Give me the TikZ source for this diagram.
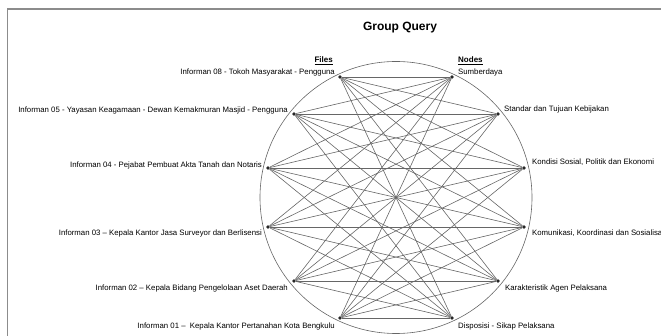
\documentclass[tikz,border=0pt]{standalone}
\usepackage{fontspec}
\setmainfont{Liberation Sans}
\usetikzlibrary{calc}
\begin{document}
\begin{tikzpicture}[x=1pt, y=-1pt,
	dot/.style={circle, fill=black!85, inner sep=0pt, minimum size=3.8pt},
	link/.style={draw=black!60, line width=0.6pt},
	lbl/.style={font=\fontsize{7.8}{9.4}\selectfont, inner sep=0pt},
	hdr/.style={font=\fontsize{8}{9.6}\selectfont\bfseries, inner sep=0pt}]
	\useasboundingbox (0,0) rectangle (661,336);

	%frame and title
	\draw[black!45, line width=1.3pt] (7.5,336) -- (7.5,9) -- (661,9);
	\node[font=\fontsize{12}{14}\selectfont\bfseries, anchor=base] (title) at (400,31) {Group Query};

	%ring
	\coordinate (c) at (396,197.5);
	\draw[black!60, line width=0.6pt] (c) circle (136pt);

	%files (left)
	\node[dot] (f8) at (340,77) {};
	\node[dot] (f5) at (294,114) {};
	\node[dot] (f4) at (268,168) {};
	\node[dot] (f3) at (268,227) {};
	\node[dot] (f2) at (294,281) {};
	\node[dot] (f1) at (340,318) {};

	%nodes (right)
	\node[dot] (n1) at (452,77) {};
	\node[dot] (n2) at (498,114) {};
	\node[dot] (n3) at (524,168) {};
	\node[dot] (n4) at (524,227) {};
	\node[dot] (n5) at (498,281) {};
	\node[dot] (n6) at (452,318) {};

	%every file to every node
	\foreach \f in {f8,f5,f4,f3,f2,f1}
		\foreach \n in {n1,n2,n3,n4,n5,n6}
			\draw[link] (\f) -- (\n);

	%labels for files
	\node[lbl, anchor=base east] (lf8) at ($(f8)+(-5,-2.5)$) {Informan 08 - Tokoh Masyarakat - Pengguna};
	\node[lbl, anchor=base east] (lf5) at ($(f5)+(-6,-1.5)$) {Informan 05 - Yayasan Keagamaan - Dewan Kemakmuran Masjid - Pengguna};
	\node[lbl, anchor=base east] (lf4) at ($(f4)+(-6,-0.5)$) {Informan 04 - Pejabat Pembuat Akta Tanah dan Notaris};
	\node[lbl, anchor=base east] (lf3) at ($(f3)+(-6,8.5)$) {Informan 03 -- Kepala Kantor Jasa Surveyor dan Berlisensi};
	\node[lbl, anchor=base east] (lf2) at ($(f2)+(-6,9.5)$) {Informan 02 -- Kepala Bidang Pengelolaan Aset Daerah};
	\node[lbl, anchor=base east] (lf1) at ($(f1)+(-5,10.5)$) {Informan 01 --\ \ Kepala Kantor Pertanahan Kota Bengkulu};

	%labels for nodes
	\node[lbl, anchor=base west] (ln1) at ($(n1)+(6,-2.5)$) {Sumberdaya};
	\node[lbl, anchor=base west] (ln2) at ($(n2)+(6,-2.5)$) {Standar dan Tujuan Kebijakan};
	\node[lbl, anchor=base west] (ln3) at ($(n3)+(8,-3.5)$) {Kondisi Sosial, Politik dan Ekonomi};
	\node[lbl, anchor=base west] (ln4) at ($(n4)+(8,8.5)$) {Komunikasi, Koordinasi dan Sosialisasi};
	\node[lbl, anchor=base west] (ln5) at ($(n5)+(7,9.5)$) {Karakteristik Agen Pelaksana};
	\node[lbl, anchor=base west] (ln6) at ($(n6)+(6,10.5)$) {Disposisi - Sikap Pelaksana};

	%column headers
	\node[hdr, anchor=base east] (files) at ($(lf8.base east)+(-2,-12)$) {\underline{Files}};
	\node[hdr, anchor=base west] (nodes) at ($(ln1.base west)+(0,-12)$) {\underline{Nodes}};
\end{tikzpicture}
\end{document}
